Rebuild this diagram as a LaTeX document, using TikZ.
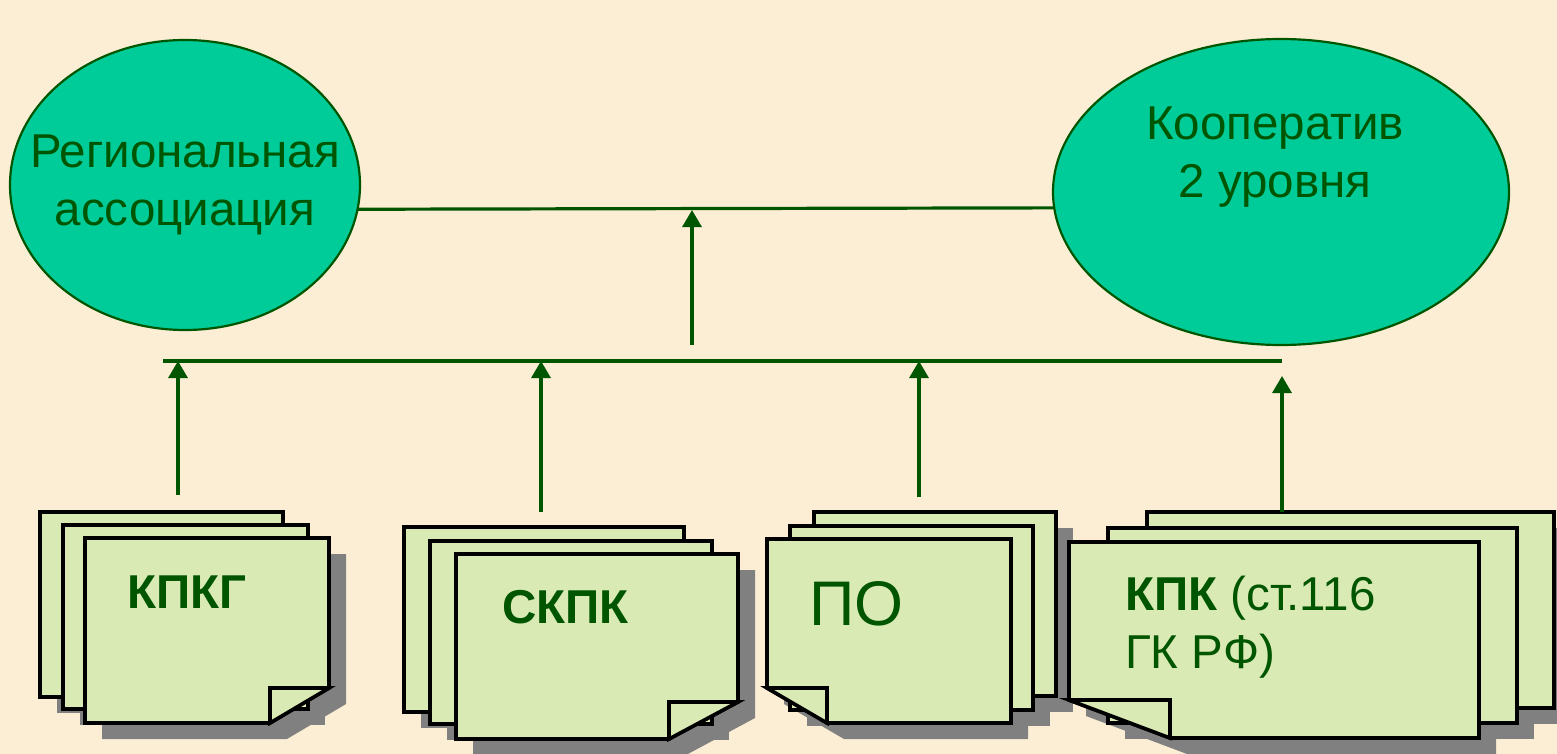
\documentclass[tikz,border=0pt]{standalone}
\usepackage{fontspec}
\setmainfont{Liberation Sans}
\usetikzlibrary{shapes.geometric,arrows.meta}
\definecolor{bgc}{RGB}{251,238,212}
\definecolor{dg}{RGB}{0,85,0}
\definecolor{ovalfill}{RGB}{0,204,153}
\definecolor{paperc}{RGB}{217,234,180}
\definecolor{shadec}{RGB}{128,128,128}
\begin{document}
\begin{tikzpicture}[x=1pt,y=-1pt,
  oval/.style={ellipse, draw=dg, line width=2.2pt, fill=ovalfill, inner sep=0pt, outer sep=0pt},
  sheet/.style={draw=black, line width=3.6pt, fill=paperc, line join=miter},
  shadowfill/.style={fill=shadec},
  conn/.style={draw=dg, line width=3.2pt},
  arr/.style={conn, -{Triangle[width=19pt,length=17pt]}},
  lbl/.style={text=dg, inner sep=0pt, anchor=base, font=\fontsize{47.5}{52}\selectfont},
  plbl/.style={text=dg, inner sep=0pt, anchor=base west}]
\fill[bgc] (0,0) rectangle (1557,754);
\useasboundingbox (0,0) rectangle (1557,754);

% ellipses
\node[oval, minimum width=350pt, minimum height=290pt] (ra) at (185,185) {};
\node[oval, minimum width=456pt, minimum height=306pt] (kp) at (1281,192) {};
\node[lbl] (ra1) at (185,168) {Региональная};
\node[lbl] (ra2) at (185,225) {ассоциация};
\node[lbl] (kp1) at (1275,140) {Кооператив};
\node[lbl] (kp2) at (1275,197) {2 уровня};

% connectors
\draw[conn] (ra.-8.25) -- (kp.184.55);
\coordinate (bl) at (163,361);
\coordinate (br) at (1282,361);
\draw[conn] (bl) -- (br);
\coordinate (ms) at (692,345);
\coordinate (me) at (692,210);
\draw[arr] (ms) -- (me);

% shadows
\begin{scope}[shift={(17,16)}]
  \fill[shadowfill] (40,512) rectangle (283,697);
  \fill[shadowfill] (63,525) rectangle (308,709);
  \fill[shadowfill] (85,538) -- (329,538) -- (329,688) -- (270,723) -- (85,723) -- cycle;
  \fill[shadowfill] (404,527) rectangle (684,712);
  \fill[shadowfill] (430,541) rectangle (712,724);
  \fill[shadowfill] (456,554) -- (738,554) -- (738,702) -- (669,739) -- (456,739) -- cycle;
  \fill[shadowfill] (814,512) rectangle (1056,696);
  \fill[shadowfill] (790,526) rectangle (1033,710);
  \fill[shadowfill] (767,539) -- (1011,539) -- (1011,723) -- (827,723) -- (767,688) -- cycle;
  \fill[shadowfill] (1147,512) rectangle (1554,708);
  \fill[shadowfill] (1108,528) rectangle (1517,723);
  \fill[shadowfill] (1069,542) -- (1479,542) -- (1479,738) -- (1170,738) -- (1069,700) -- cycle;
\end{scope}

% sheets: КПКГ
\draw[sheet] (40,512) rectangle (283,697);
\draw[sheet] (63,525) rectangle (308,709);
\draw[sheet] (85,538) -- (329,538) -- (329,688) -- (270,723) -- (85,723) -- cycle;
\draw[sheet] (270,688) -- (329,688) -- (270,723) -- cycle;
% СКПК
\draw[sheet] (404,527) rectangle (684,712);
\draw[sheet] (430,541) rectangle (712,724);
\draw[sheet] (456,554) -- (738,554) -- (738,702) -- (669,739) -- (456,739) -- cycle;
\draw[sheet] (669,702) -- (738,702) -- (669,739) -- cycle;
% ПО
\draw[sheet] (814,512) rectangle (1056,696);
\draw[sheet] (790,526) rectangle (1033,710);
\draw[sheet] (767,539) -- (1011,539) -- (1011,723) -- (827,723) -- (767,688) -- cycle;
\draw[sheet] (767,688) -- (827,688) -- (827,723) -- cycle;
% КПК
\draw[sheet] (1147,512) rectangle (1554,708);
\draw[sheet] (1108,528) rectangle (1517,723);
\draw[sheet] (1069,542) -- (1479,542) -- (1479,738) -- (1170,738) -- (1069,700) -- cycle;
\draw[sheet] (1069,700) -- (1170,700) -- (1170,738) -- cycle;

% sheet labels
\node[plbl, font=\fontsize{47.5}{52}\selectfont\bfseries] (s1) at (127,608) {КПКГ};
\node[plbl, font=\fontsize{47.5}{52}\selectfont\bfseries] (s2) at (502,623) {СКПК};
\node[plbl, font=\fontsize{63}{70}\selectfont] (s3) at (809,625) {ПО};
\node[plbl, font=\fontsize{47.5}{52}\selectfont] (s4a) at (1125,610) {\textbf{КПК} (ст.116};
\node[plbl, font=\fontsize{47.5}{52}\selectfont] (s4b) at (1125,668) {ГК РФ)};

% arrows from sheets
\coordinate (a1) at (178,495);
\coordinate (a2) at (541,512);
\coordinate (a3) at (919,497);
\coordinate (a4) at (1282,512);
\draw[arr] (a1) -- (a1 |- bl);
\draw[arr] (a2) -- (a2 |- bl);
\draw[arr] (a3) -- (a3 |- bl);
\coordinate (a4e) at (1282,376);
\draw[arr] (a4) -- (a4e);
\end{tikzpicture}
\end{document}
